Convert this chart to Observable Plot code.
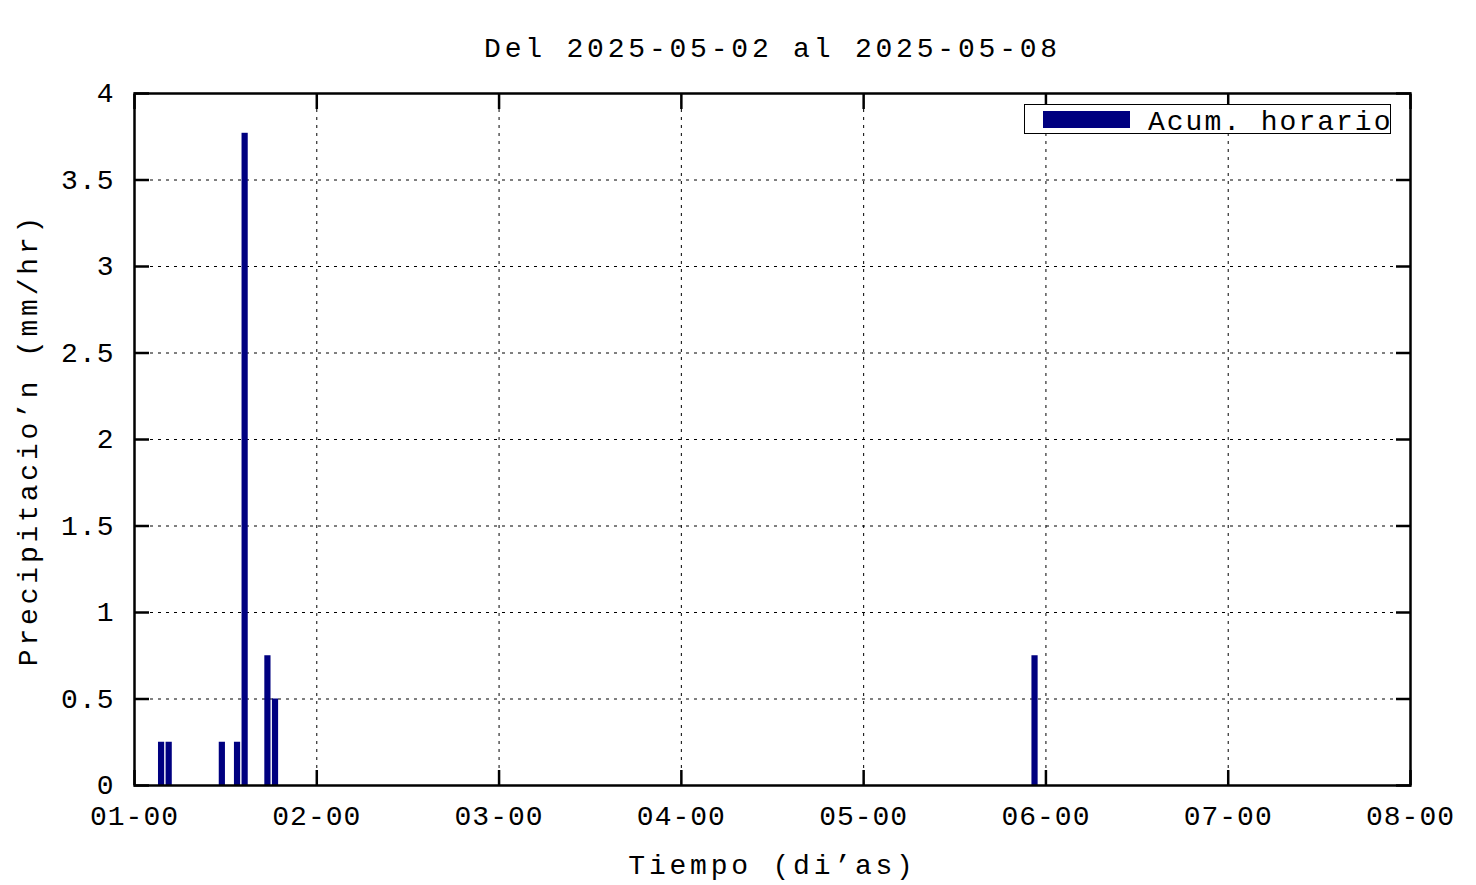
<!DOCTYPE html>
<html>
<head>
<meta charset="utf-8">
<script src="https://cdn.jsdelivr.net/npm/d3@7"></script>
<script src="https://cdn.jsdelivr.net/npm/@observablehq/plot@0.6"></script>
<style>
  html, body { margin: 0; padding: 0; background: #fff; }
  #wrap { position: relative; width: 1476px; height: 885px; }
  svg text { letter-spacing: 3.8px; }
  svg g[aria-label$="tick label"] text { letter-spacing: 1px; }
  #legend { position: absolute; left: 1024px; top: 104px; width: 365px; height: 28px;
    border: 1.5px solid #000; background: #fff; font-family: "Liberation Mono", monospace;
    font-size: 28px; letter-spacing: 2px; }
  #legend .sw { position: absolute; left: 18px; top: 6px; width: 87px; height: 17px; background: #000080; }
  #legend .lb { position: absolute; left: 123px; top: 2px; line-height: 32px; white-space: nowrap; }
</style>
</head>
<body>
<div id="wrap"></div>
<script>
const title = "Del 2025-05-02 al 2025-05-08";
const xLabel = "Tiempo (di’as)";
const yLabel = "Precipitacio’n (mm/hr)";
const seriesName = "Acum. horario";

// hourly accumulation: day of month, hour of day, value (mm/hr)
const days = [1, 1, 1, 1, 1, 1, 1, 5];
const hours = [3, 4, 11, 13, 14, 17, 18, 22];
const values = [0.25, 0.25, 0.25, 0.25, 3.77, 0.75, 0.5, 0.75];

const xTicks = [1, 2, 3, 4, 5, 6, 7, 8];
const xTickLabels = ["01-00", "02-00", "03-00", "04-00", "05-00", "06-00", "07-00", "08-00"];
const yTicks = [0, 0.5, 1, 1.5, 2, 2.5, 3, 3.5, 4];

const data = values.map((v, i) => ({start: days[i] + hours[i] / 24, end: days[i] + (hours[i] + 1) / 24, v}));

const font = "Liberation Mono";
const fs = 28;

const chart = Plot.plot({
  width: 1476,
  height: 885,
  marginLeft: 134,
  marginRight: 66,
  marginTop: 93,
  marginBottom: 100,
  style: {fontFamily: font, fontSize: fs + "px", color: "#000", background: "#fff"},
  x: {domain: [1, 8]},
  y: {domain: [0, 4]},
  marks: [
    Plot.ruleX(xTicks.slice(1, -1), {stroke: "#000", strokeWidth: 1, strokeDasharray: "3,5"}),
    Plot.ruleY(yTicks.slice(1, -1), {stroke: "#000", strokeWidth: 1, strokeDasharray: "3,5"}),
    Plot.rectY(data, {x1: "start", x2: "end", y: "v", fill: "#000080", insetLeft: 1.2, insetRight: 0.2}),
    Plot.axisX({ticks: xTicks, tickSize: -15, strokeWidth: 2.5, tickFormat: () => ""}),
    Plot.axisX({anchor: "top", ticks: xTicks, tickSize: -15, strokeWidth: 2.5, tickFormat: () => "", label: null}),
    Plot.axisX({ticks: xTicks, tickSize: 0, tickPadding: 20, tickFormat: (d) => xTickLabels[xTicks.indexOf(d)], label: null, fontSize: fs}),
    Plot.axisY({ticks: yTicks, tickSize: -15, strokeWidth: 2.5, tickFormat: () => "", label: null}),
    Plot.axisY({anchor: "right", ticks: yTicks, tickSize: -15, strokeWidth: 2.5, tickFormat: () => "", label: null}),
    Plot.axisY({ticks: yTicks, tickSize: 0, tickPadding: 20, tickFormat: (d) => String(d), label: null, fontSize: fs}),
    Plot.frame({stroke: "#000", strokeWidth: 2.5}),
    Plot.text([title], {text: (d) => d, frameAnchor: "top", dy: -56, fontSize: fs}),
    Plot.text([xLabel], {text: (d) => d, frameAnchor: "bottom", dy: 88, fontSize: fs}),
    Plot.text([yLabel], {text: (d) => d, frameAnchor: "left", textAnchor: "middle", dx: -106, rotate: -90, fontSize: fs})
  ]
});

const wrap = document.getElementById("wrap");
wrap.appendChild(chart);
const legend = document.createElement("div");
legend.id = "legend";
legend.innerHTML = '<div class="sw"></div><div class="lb"></div>';
legend.querySelector(".lb").textContent = seriesName;
wrap.appendChild(legend);
</script>
</body>
</html>
